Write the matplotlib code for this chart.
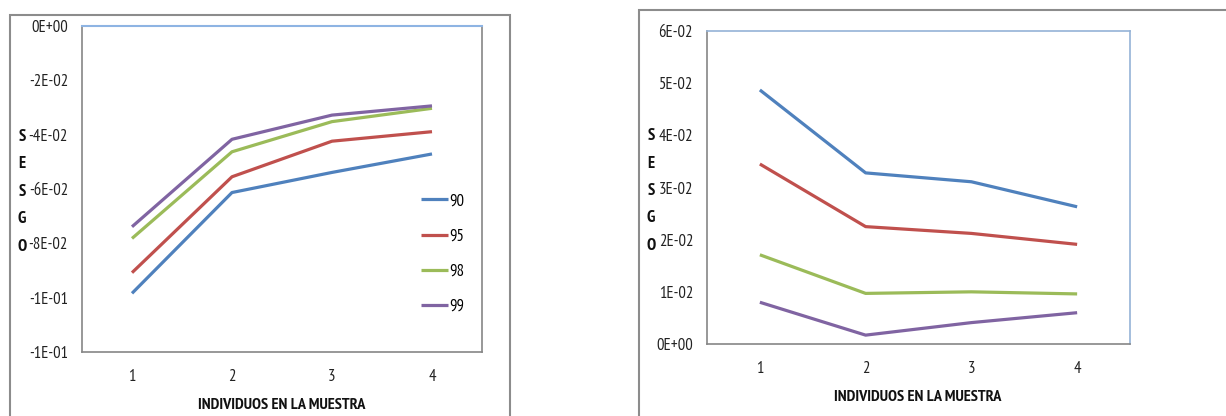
import matplotlib
matplotlib.use("Agg")
import matplotlib.pyplot as plt
from matplotlib.patches import Rectangle

# ---------------- data ----------------
categories = [1, 2, 3, 4]
series_names = ["90", "95", "98", "99"]

left_90 = [-0.0984, -0.0613, -0.0539, -0.0471]
left_95 = [-0.0908, -0.0555, -0.0424, -0.0389]
left_98 = [-0.0782, -0.0463, -0.0352, -0.0303]
left_99 = [-0.0739, -0.0417, -0.0328, -0.0294]

right_90 = [0.0487, 0.0328, 0.0311, 0.0263]
right_95 = [0.0345, 0.0225, 0.0212, 0.0191]
right_98 = [0.0171, 0.0097, 0.0100, 0.0096]
right_99 = [0.0080, 0.0017, 0.0041, 0.0060]

left_yticks = [0, -0.02, -0.04, -0.06, -0.08, -0.10, -0.12]
left_yticklabels = ["0E+00", "-2E-02", "-4E-02", "-6E-02", "-8E-02", "-1E-01", "-1E-01"]
right_yticks = [0, 0.01, 0.02, 0.03, 0.04, 0.05, 0.06]
right_yticklabels = ["0E+00", "1E-02", "2E-02", "3E-02", "4E-02", "5E-02", "6E-02"]

x_label = "INDIVIDUOS EN LA MUESTRA"
y_label = "SESGO"

colors = ["#4F81BD", "#C0504D", "#9BBB59", "#8064A2"]

# ---------------- figure ----------------
W, H = 1226, 416
plt.rcParams['font.family'] = ['PT Sans Narrow', 'Carlito', 'DejaVu Sans']
fig = plt.figure(figsize=(W / 100, H / 100), dpi=100)
fig.patch.set_facecolor("white")
FS = 12


def px_axes(x0, y0, x1, y1):
    return fig.add_axes([x0 / W, (H - y1) / H, (x1 - x0) / W, (y1 - y0) / H])


# chart-area borders
for (x0, y0, x1, y1) in [(10, 15, 510, 430), (639, 10, 1240, 430)]:
    fig.patches.append(Rectangle((x0 / W, (H - y1) / H), (x1 - x0) / W, (y1 - y0) / H,
                                 transform=fig.transFigure, fill=False,
                                 edgecolor="#8C8C8C", linewidth=1.5, clip_on=False))

grey = "#868686"
axL = px_axes(82, 26, 482, 352)
axR = px_axes(707, 31, 1130, 344)

left_series = [left_90, left_95, left_98, left_99]
right_series = [right_90, right_95, right_98, right_99]

for ax, data in [(axL, left_series), (axR, right_series)]:
    for name, vals, c in zip(series_names, data, colors):
        ax.plot(categories, vals, color=c, linewidth=2.3, label=name,
                solid_capstyle="butt", solid_joinstyle="round")
    ax.set_xlim(0.5, 4.5)
    ax.set_xticks(categories)
    ax.set_xticklabels([str(c) for c in categories])
    ax.tick_params(axis="both", length=0, labelsize=FS, colors="#222222")
    ax.tick_params(axis="y", pad=10)
    ax.tick_params(axis="x", pad=12)

axL.set_ylim(-0.12, 0)
axL.set_yticks(left_yticks)
axL.set_yticklabels(left_yticklabels)
axR.set_ylim(0, 0.06)
axR.set_yticks(right_yticks)
axR.set_yticklabels(right_yticklabels)

# spines
for s in ["left", "bottom", "right"]:
    axL.spines[s].set_color(grey)
axL.spines["top"].set_color("#8EB4E3")
for s in ["left", "bottom"]:
    axR.spines[s].set_color(grey)
for s in ["top", "right"]:
    axR.spines[s].set_color("#95B3D7")
for ax in (axL, axR):
    for s in ax.spines.values():
        s.set_linewidth(1.2)
axL.spines["top"].set_linewidth(1.5)

# legend (left panel)
axL.legend(loc="center left", bbox_to_anchor=(421 / W, (H - 254) / H),
           bbox_transform=fig.transFigure, frameon=False, fontsize=FS,
           handlelength=1.6, handletextpad=0.1, labelspacing=1.15,
           borderaxespad=0, borderpad=0)

# axis titles
fig.text(282 / W, 1 - 405 / H, x_label, ha="center", va="center",
         fontsize=11.7, fontweight="bold", color="#111111")
fig.text(918 / W, 1 - 397 / H, x_label, ha="center", va="center",
         fontsize=11.7, fontweight="bold", color="#111111")
for i, ch in enumerate(y_label):
    fig.text(22 / W, 1 - (137 + 27.5 * i) / H, ch, ha="center", va="center",
             fontsize=FS, fontweight="bold", color="#111111")
    fig.text(651 / W, 1 - (136 + 27.5 * i) / H, ch, ha="center", va="center",
             fontsize=FS, fontweight="bold", color="#111111")

fig.savefig("out.png", dpi=100, facecolor="white")
